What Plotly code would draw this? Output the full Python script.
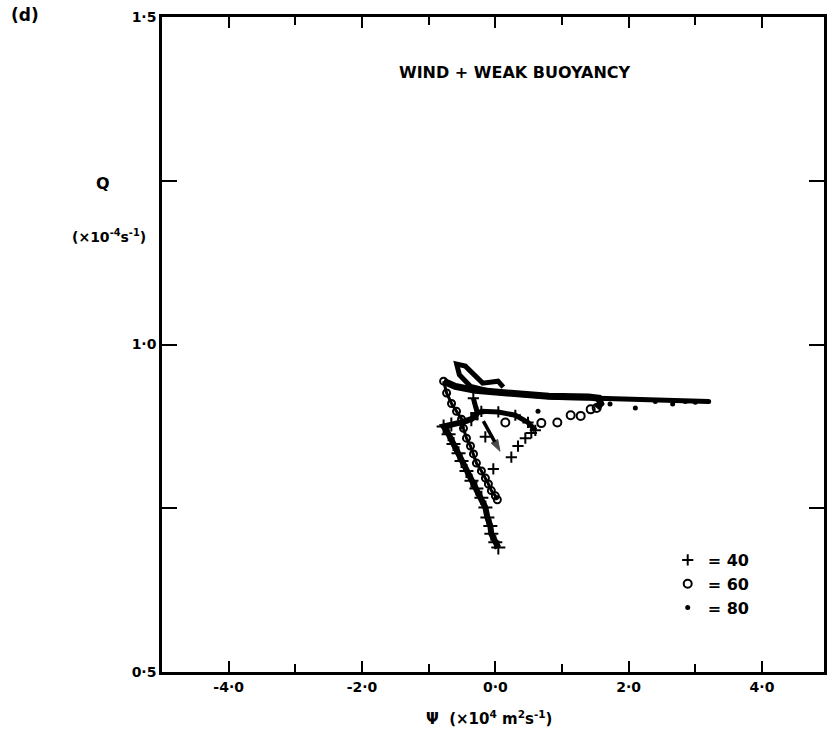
import plotly.graph_objects as go

# ---------------- data ----------------
# level 80 (dots): dense trajectory band + scattered dots
track80_x = [0.12, 0.04, -0.19, -0.45, -0.58, -0.54, -0.37, -0.10, 0.34, 0.94, 1.54, 2.13, 2.70, 3.20]
track80_y = [0.935, 0.944, 0.941, 0.967, 0.970, 0.954, 0.936, 0.929, 0.924, 0.919, 0.918, 0.916, 0.914, 0.913]
dots80_x = [0.64, 1.72, 2.10, 2.40, 2.66, 2.85, 3.00, 3.20]
dots80_y = [0.898, 0.909, 0.903, 0.913, 0.909, 0.913, 0.912, 0.913]

# level 60 (open circles): dense strand + band part + scattered circles
track60a_x = [-0.776, -0.731, -0.657, -0.582, -0.507, -0.478, -0.433, -0.373, -0.328, -0.284,
              -0.209, -0.149, -0.104, -0.060, 0.000, 0.030]
track60a_y = [0.944, 0.926, 0.910, 0.898, 0.886, 0.872, 0.857, 0.845, 0.833, 0.819,
              0.807, 0.796, 0.787, 0.777, 0.769, 0.763]
track60b_x = [-0.776, -0.60, -0.30, 0.20, 0.80, 1.40, 1.55, 1.58, 1.52]
track60b_y = [0.944, 0.936, 0.930, 0.925, 0.921, 0.920, 0.918, 0.910, 0.903]
circ60_x = [0.15, 0.69, 0.93, 1.13, 1.28, 1.43, 1.52]
circ60_y = [0.881, 0.880, 0.881, 0.892, 0.891, 0.901, 0.903]

# level 40 (crosses): arc, left strand, arrow segment + scattered crosses
track40a_x = [0.60, 0.49, 0.30, 0.045, -0.21, -0.27, -0.33]
track40a_y = [0.869, 0.881, 0.892, 0.897, 0.898, 0.895, 0.918]
track40b_x = [-0.27, -0.36, -0.51, -0.66, -0.776, -0.701, -0.627, -0.552, -0.507, -0.433, -0.358,
              -0.284, -0.209, -0.149, -0.119, -0.075, -0.060, 0.000, 0.045]
track40b_y = [0.895, 0.886, 0.881, 0.878, 0.875, 0.863, 0.848, 0.834, 0.822, 0.807, 0.792,
              0.780, 0.766, 0.751, 0.736, 0.723, 0.711, 0.698, 0.690]
arrow40_x = [-0.18, 0.07]
arrow40_y = [0.883, 0.837]
cross40_x = [0.45, 0.54, 0.34, -0.15, 0.24, -0.03]
cross40_y = [0.857, 0.865, 0.845, 0.859, 0.828, 0.810]

level_names = ["= 40", "= 60", "= 80"]
xtick_vals = [-4, -2, 0, 2, 4]
xtick_text = ["-4·0", "-2·0", "0·0", "2·0", "4·0"]
ytick_vals = [0.5, 1.0, 1.5]
ytick_text = ["0·5", "1·0", "1·5"]

FONT = "DejaVu Sans, sans-serif"
K = "black"

fig = go.Figure()

# dense tracks
fig.add_trace(go.Scatter(x=track60b_x, y=track60b_y, mode="lines",
                         line=dict(color=K, width=7), showlegend=False, hoverinfo="skip"))
fig.add_trace(go.Scatter(x=track80_x, y=track80_y, mode="lines",
                         line=dict(color=K, width=5), showlegend=False, hoverinfo="skip"))
fig.add_trace(go.Scatter(x=track60a_x, y=track60a_y, mode="lines+markers",
                         line=dict(color=K, width=3),
                         marker=dict(symbol="circle-open", size=7, color=K, line=dict(width=2)),
                         showlegend=False, hoverinfo="skip"))
fig.add_trace(go.Scatter(x=track40a_x, y=track40a_y, mode="lines+markers",
                         line=dict(color=K, width=5),
                         marker=dict(symbol="cross-thin", size=8, color=K, line=dict(width=2, color=K)),
                         showlegend=False, hoverinfo="skip"))
fig.add_trace(go.Scatter(x=track40b_x, y=track40b_y, mode="lines+markers",
                         line=dict(color=K, width=6),
                         marker=dict(symbol="cross-thin", size=10, color=K, line=dict(width=2, color=K)),
                         showlegend=False, hoverinfo="skip"))
fig.add_trace(go.Scatter(x=arrow40_x, y=arrow40_y, mode="lines+markers",
                         line=dict(color=K, width=3.5),
                         marker=dict(symbol=["circle", "arrow"], size=[1, 12], angleref="previous",
                                     color=K, line=dict(width=1, color=K)),
                         showlegend=False, hoverinfo="skip"))

# scattered markers (legend entries)
fig.add_trace(go.Scatter(x=cross40_x, y=cross40_y, mode="markers", name=level_names[0],
                         marker=dict(symbol="cross-thin", size=8, color=K, line=dict(width=2, color=K))))
fig.add_trace(go.Scatter(x=circ60_x, y=circ60_y, mode="markers", name=level_names[1],
                         marker=dict(symbol="circle-open", size=8, color=K, line=dict(width=2, color=K))))
fig.add_trace(go.Scatter(x=dots80_x, y=dots80_y, mode="markers", name=level_names[2],
                         marker=dict(symbol="circle", size=5, color=K)))

L, R, T, B = 162, 0, 17, 75
W, H = 827, 747
pw, ph = W - L - R, H - T - B


def px(xp):
    return (xp - L) / pw


def py(yp):
    return (H - B - yp) / ph


def f(size, weight="bold"):
    return dict(family=FONT, size=size, color=K, weight=weight)


fig.update_layout(
    width=W, height=H,
    margin=dict(l=L, r=R, t=T, b=B),
    paper_bgcolor="white", plot_bgcolor="white",
    font=f(14),
    showlegend=True,
    legend=dict(x=px(670), y=py(543), xanchor="left", yanchor="top",
                bgcolor="rgba(0,0,0,0)", font=f(16),
                itemwidth=30, tracegroupgap=0),
    xaxis=dict(range=[-5, 4.93], tickvals=xtick_vals, ticktext=xtick_text,
               ticks="inside", ticklen=11, tickwidth=1.5, tickcolor=K,
               minor=dict(dtick=1, tick0=0, ticks="inside", ticklen=8, tickwidth=1.5, tickcolor=K),
               showline=True, linewidth=2.5, linecolor=K, mirror="ticks",
               showgrid=False, zeroline=False, tickfont=f(14)),
    yaxis=dict(range=[0.5, 1.5], tickvals=ytick_vals, ticktext=ytick_text,
               ticks="inside", ticklen=15, tickwidth=1.5, tickcolor=K,
               minor=dict(dtick=0.25, tick0=0.5, ticks="inside", ticklen=15, tickwidth=1.5, tickcolor=K),
               showline=True, linewidth=2.5, linecolor=K, mirror="ticks",
               showgrid=False, zeroline=False, tickfont=f(14)),
    annotations=[
        dict(text="(d)", x=px(8), y=py(15), xref="paper", yref="paper",
             xanchor="left", yanchor="middle", showarrow=False, font=f(17)),
        dict(text="WIND + WEAK BUOYANCY", x=px(517), y=py(72), xref="paper", yref="paper",
             xanchor="center", yanchor="middle", showarrow=False, font=f(16)),
        dict(text="Q", x=px(103), y=py(183), xref="paper", yref="paper",
             xanchor="center", yanchor="middle", showarrow=False, font=f(16)),
        dict(text="(×10<sup>-4</sup>s<sup>-1</sup>)", x=px(109), y=py(236), xref="paper", yref="paper",
             xanchor="center", yanchor="middle", showarrow=False, font=f(14)),
        dict(text="Ψ  (×10<sup>4</sup> m<sup>2</sup>s<sup>-1</sup>)", x=px(490), y=py(718),
             xref="paper", yref="paper", xanchor="center", yanchor="middle",
             showarrow=False, font=f(15)),
    ],
)

fig.write_html("out.html")
